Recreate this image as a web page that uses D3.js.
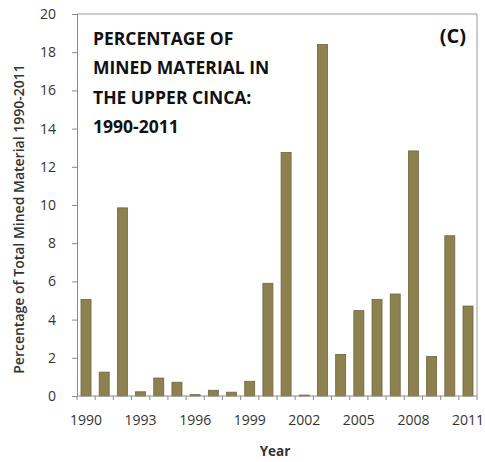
<!DOCTYPE html>
<html>
<head>
<meta charset="utf-8">
<script src="https://cdn.jsdelivr.net/npm/d3@7/dist/d3.min.js"></script>
<style>
  body { margin: 0; background: #fff; }
  svg { display: block; }
  text { font-family: "Open Sans", "Noto Sans", sans-serif; }
</style>
</head>
<body>
<svg id="chart" width="485" height="462"></svg>
<script>
// Yearly share of total mined material, upper Cinca basin
const years = [1990, 1991, 1992, 1993, 1994, 1995, 1996, 1997, 1998, 1999, 2000,
               2001, 2002, 2003, 2004, 2005, 2006, 2007, 2008, 2009, 2010, 2011];
const percentages = [5.05, 1.25, 9.85, 0.22, 0.94, 0.72, 0.07, 0.3, 0.2, 0.77, 5.9,
                     12.75, 0.05, 18.4, 2.18, 4.47, 5.06, 5.34, 12.83, 2.07, 8.39, 4.71];
const yearLabels = [1990, 1993, 1996, 1999, 2002, 2005, 2008, 2011];
const yTicks = [0, 2, 4, 6, 8, 10, 12, 14, 16, 18, 20];
const titleLines = ["PERCENTAGE OF", "MINED MATERIAL IN", "THE UPPER CINCA:", "1990-2011"];

const svg = d3.select("#chart");
const m = { left: 77, right: 477, top: 14, bottom: 396 };

const x = d3.scaleBand().domain(years).range([m.left, m.right]).paddingInner(0.45).paddingOuter(0.22);
const y = d3.scaleLinear().domain([0, 20]).range([m.bottom, m.top]);

// plot frame (top and right edges)
svg.append("path")
  .attr("d", `M${m.left},${m.top}H${m.right}V${m.bottom}`)
  .attr("fill", "none").attr("stroke", "#9a9a9a").attr("stroke-width", 1);

// bars
svg.append("g").selectAll("rect").data(years).join("rect")
  .attr("x", (d) => x(d))
  .attr("width", x.bandwidth())
  .attr("y", (d, i) => y(percentages[i]))
  .attr("height", (d, i) => y(0) - y(percentages[i]))
  .attr("fill", "#8d814f")
  .attr("stroke", "#6f653b")
  .attr("stroke-width", 0.8);

// y axis
const yAxis = svg.append("g").attr("transform", `translate(${m.left},0)`)
  .call(d3.axisLeft(y).tickValues(yTicks).tickSize(5).tickPadding(16));
yAxis.select(".domain").attr("stroke", "#8a8a8a");
yAxis.selectAll(".tick line").attr("stroke", "#8a8a8a");
yAxis.selectAll("text").attr("font-size", 14).attr("fill", "#333")
  .style("font-family", "'Open Sans', sans-serif");

// x axis: tick marks at every year boundary, labels every third year
const boundaries = d3.range(years.length + 1).map((i) => m.left + (m.right - m.left) * i / years.length);
const xAxisG = svg.append("g");
xAxisG.append("line")
  .attr("x1", m.left).attr("x2", m.right).attr("y1", m.bottom).attr("y2", m.bottom)
  .attr("stroke", "#8a8a8a");
xAxisG.selectAll(".tk").data(boundaries).join("line").attr("class", "tk")
  .attr("x1", (d) => d).attr("x2", (d) => d)
  .attr("y1", m.bottom).attr("y2", m.bottom + 4)
  .attr("stroke", "#8a8a8a");
xAxisG.selectAll("text").data(yearLabels).join("text")
  .attr("x", (d) => x(d) + x.bandwidth() / 2)
  .attr("y", 425)
  .attr("text-anchor", "middle")
  .attr("font-size", 14).attr("fill", "#333")
  .text((d) => d);

// axis titles
svg.append("text")
  .attr("x", 275).attr("y", 456)
  .attr("text-anchor", "middle")
  .attr("font-size", 13.5).attr("font-weight", 700).attr("fill", "#333")
  .text("Year");
svg.append("text")
  .attr("transform", "translate(24,219) rotate(-90)")
  .attr("text-anchor", "middle")
  .attr("font-size", 14).attr("font-weight", 600).attr("fill", "#333")
  .text("Percentage of Total Mined Material 1990-2011");

// in-plot title and panel letter
svg.append("g").selectAll("text").data(titleLines).join("text")
  .attr("x", 93)
  .attr("y", (d, i) => 45 + i * 29.4)
  .attr("font-size", 17.5).attr("font-weight", 700).attr("fill", "#111")
  .text((d) => d);
svg.append("text")
  .attr("x", 466).attr("y", 43)
  .attr("text-anchor", "end")
  .attr("font-size", 20).attr("font-weight", 700).attr("fill", "#111")
  .text("(C)");
</script>
</body>
</html>
